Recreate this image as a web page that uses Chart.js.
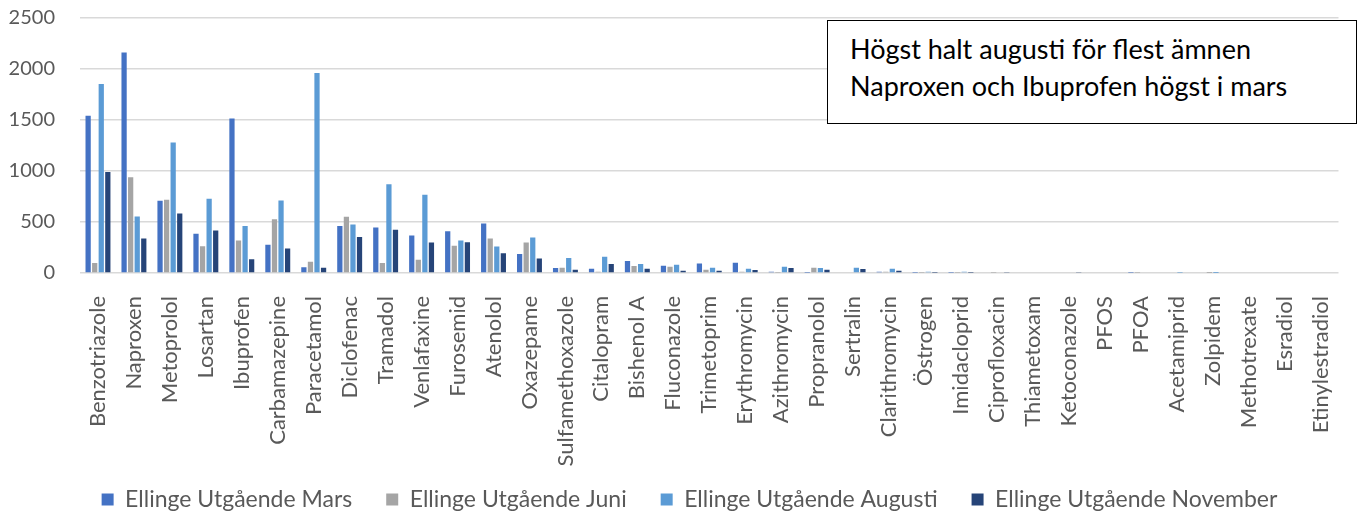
<!DOCTYPE html>
<html lang="sv">
<head>
<meta charset="utf-8">
<title>Ellinge Utgående</title>
<script src="https://cdn.jsdelivr.net/npm/chart.js@4.4.1/dist/chart.umd.min.js"></script>
<style>
  html, body { margin: 0; padding: 0; background: #fff; }
  #wrap { position: relative; width: 1362px; height: 515px; }
  #chart { display: block; }
  #note {
    position: absolute;
    left: 827px; top: 20px;
    width: 506px; height: 93px;
    padding: 9px 0 0 22px;
    border: 1.5px solid #000;
    background: #fff;
    font-family: Lato, sans-serif;
    font-size: 27px;
    line-height: 37px;
    color: #000;
  }
</style>
</head>
<body>
<div id="wrap">
  <canvas id="chart" width="1362" height="515"></canvas>
  <div id="note">Högst halt augusti för flest ämnen<br>Naproxen och Ibuprofen högst i mars</div>
</div>
<script>
// --- DATA ---
const substances = [
  'Benzotriazole', 'Naproxen', 'Metoprolol', 'Losartan', 'Ibuprofen', 'Carbamazepine',
  'Paracetamol', 'Diclofenac', 'Tramadol', 'Venlafaxine', 'Furosemid', 'Atenolol',
  'Oxazepame', 'Sulfamethoxazole', 'Citalopram', 'Bishenol A', 'Fluconazole', 'Trimetoprim',
  'Erythromycin', 'Azithromycin', 'Propranolol', 'Sertralin', 'Clarithromycin', 'Östrogen',
  'Imidacloprid', 'Ciprofloxacin', 'Thiametoxam', 'Ketoconazole', 'PFOS', 'PFOA',
  'Acetamiprid', 'Zolpidem', 'Methotrexate', 'Esradiol', 'Etinylestradiol'
];

const mars = [1541, 2161, 709, 384, 1515, 276, 56, 462, 446, 367, 410, 485, 187, 49, 42, 118, 72, 92,
  101, 13, 3, 0, 13, 3, 2, 0, 0, 0, 0, 2, 0, 0, 0, 0, 0];
const juni = [98, 938, 718, 262, 318, 528, 111, 551, 98, 131, 266, 338, 298, 52, 13, 69, 62, 33,
  13, 3, 52, 0, 13, 3, 2, 3, 0, 0, 0, 2, 0, 1, 0, 0, 0];
const augusti = [1853, 554, 1280, 728, 462, 712, 1962, 475, 869, 768, 318, 259, 347, 148, 160, 89, 82, 52,
  42, 62, 49, 52, 42, 13, 13, 0, 0, 0, 0, 0, 3, 1, 0, 0, 0];
const november = [990, 338, 584, 416, 134, 239, 52, 354, 423, 298, 301, 193, 141, 33, 89, 42, 23, 23,
  30, 49, 33, 39, 23, 3, 3, 10, 0, 6, 0, 0, 0, 0, 0, 0, 0];

const seriesNames = ['Ellinge Utgående Mars', 'Ellinge Utgående Juni', 'Ellinge Utgående Augusti', 'Ellinge Utgående November'];
const seriesColors = ['#4472C4', '#A5A5A5', '#5B9BD5', '#264478'];
const yTicks = [0, 500, 1000, 1500, 2000, 2500];

// --- CHART ---
const textColor = '#595959';
const gridColor = '#d9d9d9';

const datasets = [mars, juni, augusti, november].map((values, i) => ({
  label: seriesNames[i],
  data: values,
  backgroundColor: seriesColors[i],
  borderWidth: 0,
  categoryPercentage: 0.73,
  barPercentage: 0.8,
}));

// tick labels may spill outside their axis box here, so skip the label clip
const noLabelClip = (scale) => { scale._computeLabelArea = () => undefined; };

new Chart(document.getElementById('chart'), {
  type: 'bar',
  data: { labels: substances, datasets },
  options: {
    responsive: false,
    animation: false,
    layout: { padding: { top: 10, right: 5, left: 22, bottom: -6 } },
    plugins: {
      tooltip: { enabled: false },
      legend: {
        position: 'bottom',
        labels: {
          color: textColor,
          font: { family: 'Lato, sans-serif', size: 23 },
          boxWidth: 12,
          boxHeight: 12,
          padding: 34,
        },
      },
    },
    scales: {
      x: {
        grid: { display: false },
        border: { display: false },
        ticks: {
          color: textColor,
          font: { family: 'Lato, sans-serif', size: 22 },
          minRotation: 90,
          maxRotation: 90,
          padding: 15,
          autoSkip: false,
        },
        // long labels run on into the empty top of the legend box
        afterFit: (scale) => {
          scale.height = 181;
          noLabelClip(scale);
        },
      },
      y: {
        min: 0,
        max: 2500,
        afterBuildTicks: (axis) => { axis.ticks = yTicks.map((v) => ({ value: v })); },
        grid: { color: gridColor, lineWidth: 1.5, drawTicks: true, tickLength: 19, tickColor: 'rgba(0,0,0,0)' },
        border: { display: false },
        ticks: {
          color: textColor,
          font: { family: 'Lato, sans-serif', size: 20 },
          padding: 6,
          callback: (v) => String(v),
        },
        afterFit: (scale) => {
          scale.width = 58;
          noLabelClip(scale);
        },
      },
    },
  },
});
</script>
</body>
</html>
